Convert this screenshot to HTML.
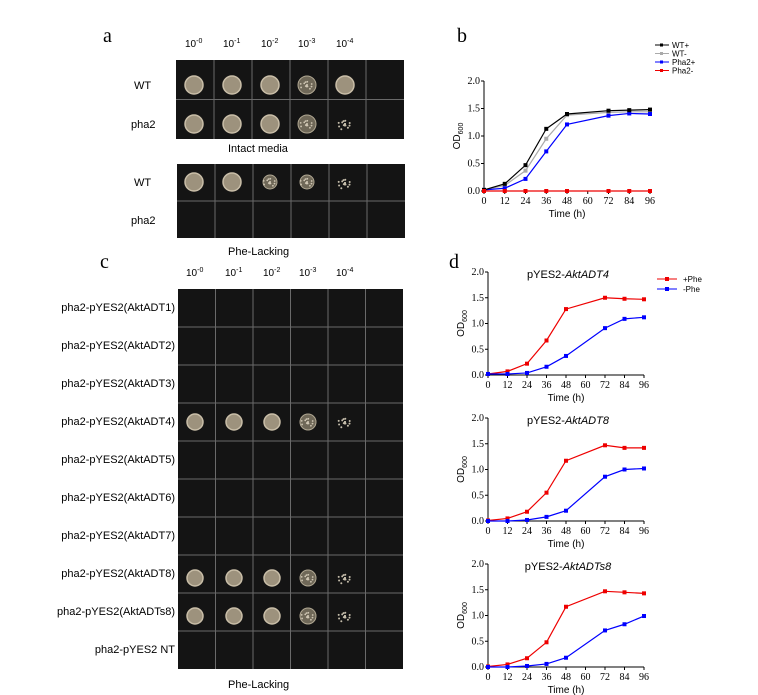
<!DOCTYPE html>
<html><head><meta charset="utf-8"><style>
body{margin:0;background:#fff;width:758px;height:695px;overflow:hidden}
svg{display:block}
text{font-family:"Liberation Sans",sans-serif}
.serif{font-family:"Liberation Serif",serif}
</style></head><body>
<svg id="s" width="758" height="695" viewBox="0 0 758 695" xmlns="http://www.w3.org/2000/svg">
<text x="103" y="42" class="serif" font-size="20">a</text>
<text x="457" y="42" class="serif" font-size="20">b</text>
<text x="100" y="268" class="serif" font-size="20">c</text>
<text x="449" y="268" class="serif" font-size="20">d</text>
<text x="134" y="89" font-size="11">WT</text>
<text x="131" y="128" font-size="11">pha2</text>
<text x="228" y="152" font-size="11">Intact media</text>
<text x="134" y="186" font-size="11">WT</text>
<text x="131" y="224" font-size="11">pha2</text>
<text x="228" y="255" font-size="11">Phe-Lacking</text>
<text x="228" y="688" font-size="11">Phe-Lacking</text>
</svg>
<script>
const s=document.getElementById('s');let h='';
function plate(x0,y0,w,hh,rows){h+=`<rect x="${x0}" y="${y0}" width="${w}" height="${hh}" fill="#141414"/>`;
for(let i=1;i<6;i++){let x=x0+w*i/6;h+=`<line x1="${x}" y1="${y0}" x2="${x}" y2="${y0+hh}" stroke="#6a6a6a" stroke-width="1"/>`;}
for(let j=1;j<rows;j++){let y=y0+hh*j/rows;h+=`<line x1="${x0}" y1="${y}" x2="${x0+w}" y2="${y}" stroke="#6a6a6a" stroke-width="1"/>`;}}
function col(cx,cy,r,type){if(type==0)h+=`<circle cx="${cx}" cy="${cy}" r="${r}" fill="#9d927d" stroke="#c9bea8" stroke-width="1.5"/>`;
else if(type==1){h+=`<circle cx="${cx}" cy="${cy}" r="${r}" fill="#6f6858" stroke="#b0a792" stroke-width="1"/>`;for(let k=0;k<14;k++){let a=k*2.4,d=(k%5)*1.6;h+=`<circle cx="${cx+Math.cos(a)*d}" cy="${cy+Math.sin(a)*d}" r="0.9" fill="#cfc6b3"/>`;}}
else{for(let k=0;k<16;k++){let a=k*2.4,d=(k%5)*1.6;h+=`<circle cx="${cx+Math.cos(a)*d}" cy="${cy+Math.sin(a)*d}" r="1" fill="#c5bdab"/>`;}}}
function heads(y,xs){const ex=['-0','-1','-2','-3','-4'];xs.forEach((x,i)=>{h+=`<text x="${x-9}" y="${y}" font-size="10">10<tspan dy="-4" font-size="7">${ex[i]}</tspan></text>`;});}
heads(47,[194,232,270,307,345]);
plate(176,60,228,79,2);
[[194,85,0],[232,85,0],[270,85,0],[307,85,1],[345,85,0],[194,124,0],[232,124,0],[270,124,0],[307,124,1],[345,124,2]].forEach(c=>col(c[0],c[1],9,c[2]));
plate(177,164,228,74,2);
[[194,182,0],[232,182,0],[270,182,1],[307,182,1],[345,183,2]].forEach(c=>col(c[0],c[1],c[2]==0?9:7,c[2]));
heads(276,[195,234,272,308,345]);
plate(178,289,225,380,10);
const labs=['pha2-pYES2(AktADT1)','pha2-pYES2(AktADT2)','pha2-pYES2(AktADT3)','pha2-pYES2(AktADT4)','pha2-pYES2(AktADT5)','pha2-pYES2(AktADT6)','pha2-pYES2(AktADT7)','pha2-pYES2(AktADT8)','pha2-pYES2(AktADTs8)','pha2-pYES2 NT'];
labs.forEach((l,i)=>{h+=`<text x="175" y="${311+i*38}" font-size="11" text-anchor="end">${l}</text>`;});
[422,578,616].forEach(cy=>{[195,234,272].forEach(x=>col(x,cy,8,0));col(308,cy,8,1);col(345,cy,6,2);});
const T=[0,12,24,36,48,72,84,96];
function chart(x0,x1,y0,y2,series){const sx=t=>x0+t*(x1-x0)/96,sy=v=>y0-v*(y0-y2)/2;
h+=`<line x1="${x0}" y1="${y0}" x2="${x1}" y2="${y0}" stroke="#000"/><line x1="${x0}" y1="${y0}" x2="${x0}" y2="${y2}" stroke="#000"/>`;
for(let t=0;t<=96;t+=12)h+=`<line x1="${sx(t)}" y1="${y0}" x2="${sx(t)}" y2="${y0+3}" stroke="#000"/><text x="${sx(t)}" y="${y0+13}" font-size="10" class="serif" text-anchor="middle">${t}</text>`;
for(let v=0;v<=2;v+=0.5)h+=`<line x1="${x0-3}" y1="${sy(v)}" x2="${x0}" y2="${sy(v)}" stroke="#000"/><text x="${x0-4}" y="${sy(v)+3}" font-size="10" class="serif" text-anchor="end">${v.toFixed(1)}</text>`;
h+=`<text x="${(x0+x1)/2}" y="${y0+26}" font-size="10" text-anchor="middle">Time (h)</text>`;
h+=`<text transform="translate(${x0-24},${(y0+y2)/2}) rotate(-90)" font-size="10" text-anchor="middle">OD<tspan dy="3" font-size="7">600</tspan></text>`;
series.forEach(([c,vals])=>{h+=`<polyline fill="none" stroke="${c}" stroke-width="1.2" points="${vals.map((v,i)=>sx(T[i])+','+sy(v)).join(' ')}"/>`;vals.forEach((v,i)=>h+=`<rect x="${sx(T[i])-2}" y="${sy(v)-2}" width="4" height="4" fill="${c}"/>`);});}
chart(484,650,191,81,[['#aaa',[0.02,0.1,0.37,0.95,1.38,1.43,1.44,1.44]],['#00f',[0.02,0.05,0.22,0.72,1.21,1.37,1.41,1.40]],['#000',[0.02,0.13,0.47,1.13,1.4,1.46,1.47,1.48]],['#e00',[0,0,0,0,0,0,0,0]]]);
[['#000','WT+'],['#aaa','WT-'],['#00f','Pha2+'],['#e00','Pha2-']].forEach(([c,l],i)=>{let y=45+i*8.5;h+=`<line x1="655" y1="${y}" x2="669" y2="${y}" stroke="${c}"/><rect x="660" y="${y-1.5}" width="3" height="3" fill="${c}"/><text x="672" y="${y+3}" font-size="8">${l}</text>`;});
const D=[[375,'AktADT4',[0.02,0.07,0.22,0.67,1.28,1.5,1.48,1.47],[0.02,0.02,0.04,0.16,0.37,0.91,1.09,1.12]],
[521,'AktADT8',[0.01,0.05,0.18,0.55,1.17,1.47,1.42,1.42],[0,0,0.02,0.08,0.2,0.86,1.0,1.02]],
[667,'AktADTs8',[0.01,0.05,0.17,0.48,1.17,1.47,1.45,1.43],[0,0,0.02,0.06,0.18,0.71,0.83,0.99]]];
D.forEach(([y0,n,a,b])=>{chart(488,644,y0,y0-103,[['#e00',a],['#00f',b]]);h+=`<text x="568" y="${y0-97}" font-size="11" text-anchor="middle">pYES2-<tspan font-style="italic">${n}</tspan></text>`;});
[['#e00','+Phe'],['#00f','-Phe']].forEach(([c,l],i)=>{let y=279+i*10;h+=`<line x1="657" y1="${y}" x2="677" y2="${y}" stroke="${c}"/><rect x="665" y="${y-2}" width="4" height="4" fill="${c}"/><text x="683" y="${y+3}" font-size="8">${l}</text>`;});
s.insertAdjacentHTML('beforeend',h);
</script>
</body></html>
